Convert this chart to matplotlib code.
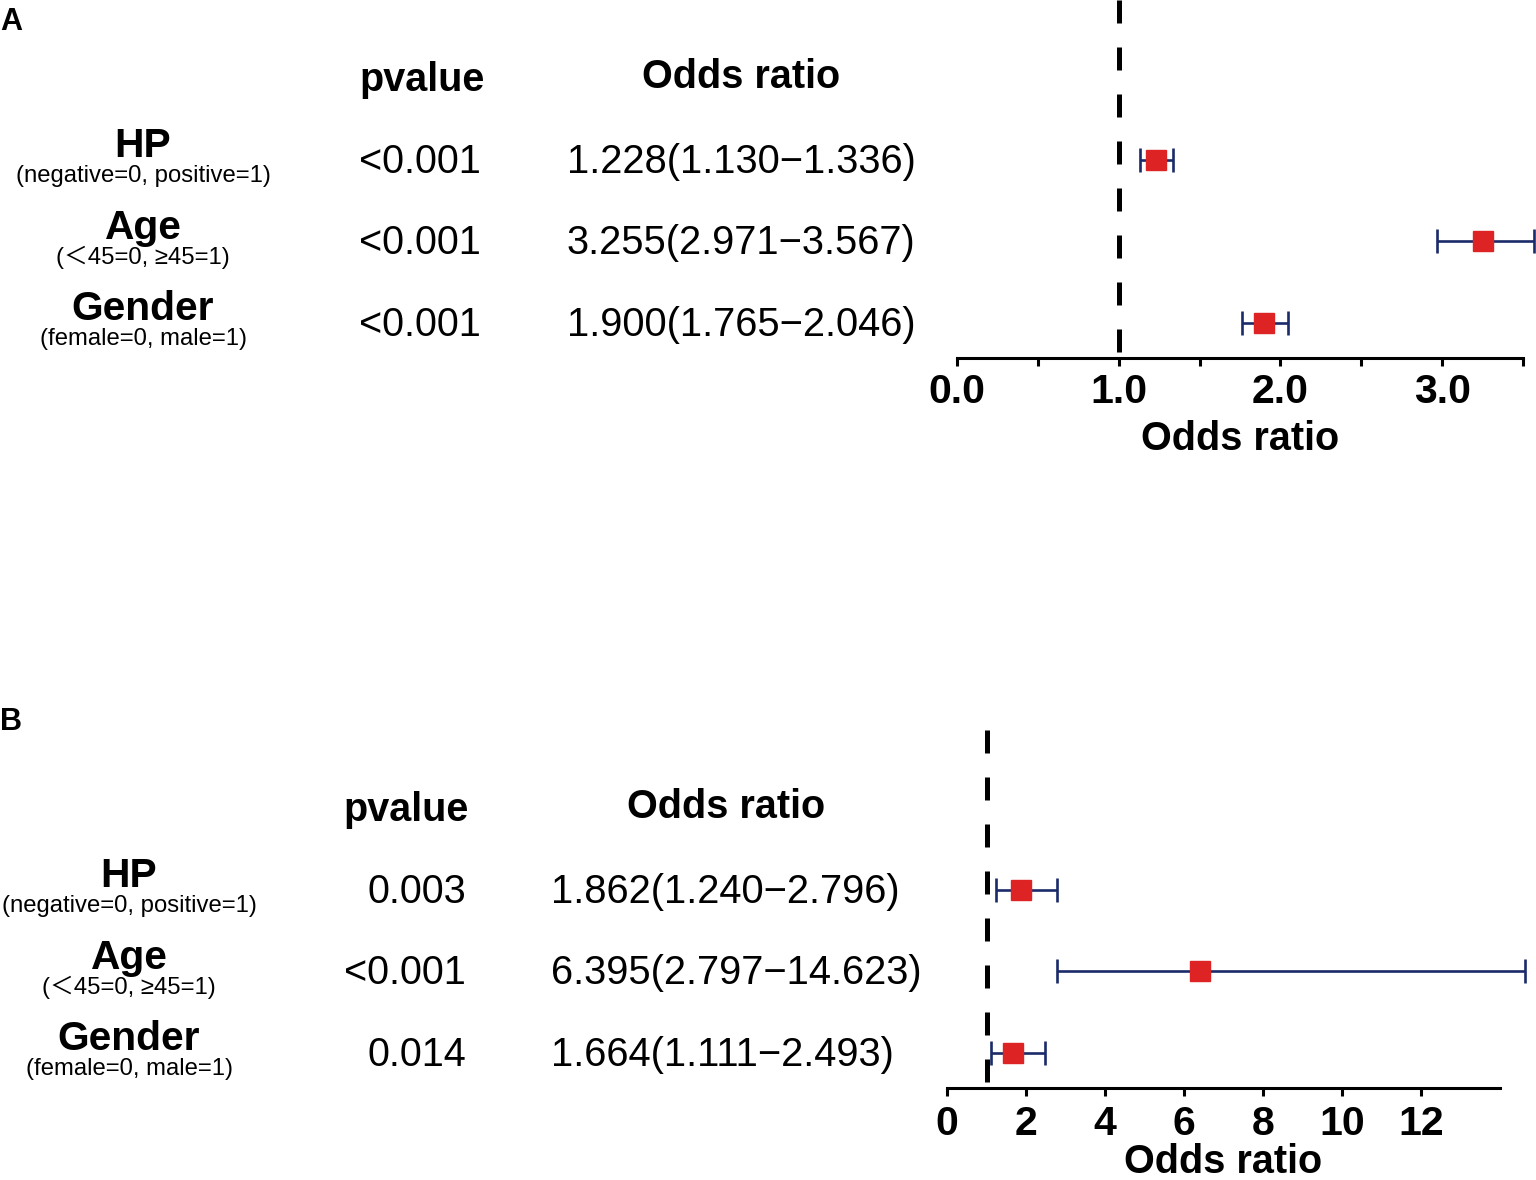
import numpy as np
import matplotlib
matplotlib.use('Agg')
import matplotlib.pyplot as plt
import matplotlib.transforms as mtransforms

plt.rcParams['font.family'] = ['Liberation Sans', 'Noto Sans CJK SC', 'DejaVu Sans']

# 变量与编码说明
variables = ['HP', 'Age', 'Gender']
codings = ['(negative=0, positive=1)', '(＜45=0, ≥45=1)', '(female=0, male=1)']

# 图 A
a_or = [1.228, 3.255, 1.900]
a_low = [1.130, 2.971, 1.765]
a_high = [1.336, 3.567, 2.046]
a_p = ['<0.001', '<0.001', '<0.001']

# 图 B
b_or = [1.862, 6.395, 1.664]
b_low = [1.240, 2.797, 1.111]
b_high = [2.796, 14.623, 2.493]
b_p = ['0.003', '<0.001', '0.014']

a_ticks = [0.0, 1.0, 2.0, 3.0]
a_ticklabels = ['0.0', '1.0', '2.0', '3.0']
a_minor = [0.5, 1.5, 2.5, 3.5]
b_ticks = [0, 2, 4, 6, 8, 10, 12]
b_ticklabels = ['0', '2', '4', '6', '8', '10', '12']

REF = 1.0
W, H = 1536, 1180
RED = '#DD2323'
NAVY = '#1B2A68'


def draw_panel(fig, rect, label, label_top, ors, lows, highs, pvals,
               xlim, ticks, ticklabels, minor, cols, tickpad, labelpad):
    ax = fig.add_axes(rect)
    rows = np.arange(len(ors), 0, -1)
    ax.set_ylim(0.57, 4.96)
    ax.set_xlim(*xlim)

    ors = np.array(ors)
    err = [ors - np.array(lows), np.array(highs) - ors]
    eb = ax.errorbar(ors, rows, xerr=err, fmt='s', ms=14, mfc=RED, mec=RED,
                     ecolor=NAVY, elinewidth=1.9, capsize=8.3, capthick=1.9, zorder=3)
    for art in [eb.lines[0], *eb.lines[1], *eb.lines[2]]:
        art.set_clip_on(False)

    y0, y1 = ax.get_ylim()
    ax.plot([REF, REF], [y1, y0], color='black', lw=3.6, dashes=(4.6, 4.8),
            clip_on=False, zorder=2)

    for s in ['left', 'top', 'right']:
        ax.spines[s].set_visible(False)
    ax.spines['bottom'].set_linewidth(2.2)
    ax.set_yticks([])
    ax.set_xticks(ticks)
    ax.set_xticks(minor, minor=True)
    ax.set_xticklabels(ticklabels, fontsize=29.5, fontweight='bold')
    ax.tick_params(axis='x', which='both', direction='out', length=6, width=2.2, pad=tickpad)
    ax.set_xlabel('Odds ratio', fontsize=28.5, fontweight='bold', labelpad=labelpad)

    name_x, p_right, p_head, or_head, or_left = [c / W for c in cols]
    blend = mtransforms.blended_transform_factory(fig.transFigure, ax.transData)

    def shifted(pts):
        return blend + mtransforms.ScaledTranslation(0, pts / 72, fig.dpi_scale_trans)

    top = rows[0]
    fig.text(p_head, top, 'pvalue', transform=shifted(49.5), ha='center', va='baseline',
             fontsize=28.5, fontweight='bold')
    fig.text(or_head, top, 'Odds ratio', transform=shifted(52), ha='center', va='baseline',
             fontsize=28.5, fontweight='bold')

    for r, name, code, p, o, lo, hi in zip(rows, variables, codings, pvals, ors, lows, highs):
        fig.text(name_x, r, name, transform=shifted(2), ha='center', va='baseline',
                 fontsize=29.3, fontweight='bold')
        fig.text(name_x, r, code, transform=shifted(-16), ha='center', va='baseline',
                 fontsize=17.2)
        fig.text(p_right, r, p, transform=shifted(-1.5), ha='right', va='center',
                 fontsize=28.5)
        fig.text(or_left, r, f'{o:.3f}({lo:.3f}\u2212{hi:.3f})', transform=shifted(-1.5),
                 ha='left', va='center', fontsize=28.7)

    fig.text(0.0, 1 - label_top / H, label, ha='left', va='top', fontsize=22,
             fontweight='bold')
    return ax


fig = plt.figure(figsize=(W / 100, H / 100), dpi=100)

draw_panel(fig, [957 / W, 1 - 358 / H, 566 / W, 358 / H], 'A', 7,
           a_or, a_low, a_high, a_p, (0, 3.5), a_ticks, a_ticklabels, a_minor,
           [143, 481, 422, 741, 567], 5, 6.5)

draw_panel(fig, [947 / W, 1 - 1088 / H, 553 / W, 358 / H], 'B', 707,
           b_or, b_low, b_high, b_p, (0, 14), b_ticks, b_ticklabels, [],
           [129, 466, 406, 726, 551], 6.5, -0.5)

fig.savefig('out.png', dpi=100)
